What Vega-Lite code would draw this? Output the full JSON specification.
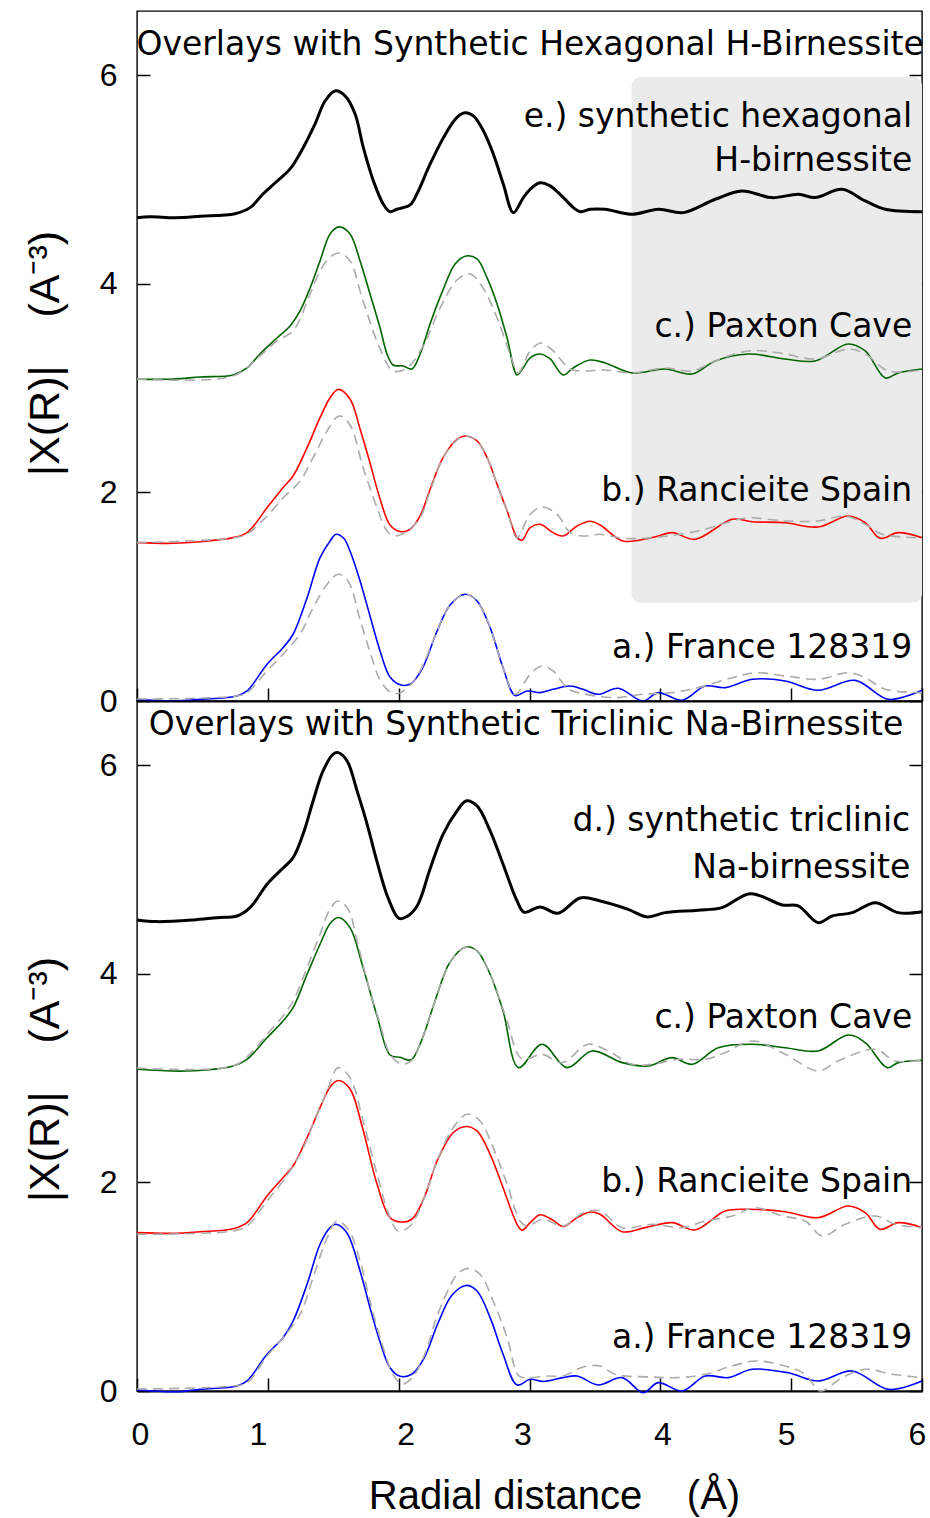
{
"$schema": "https://vega.github.io/schema/vega-lite/v6.json",
"background": "white",
"padding": {"left": 23, "top": 10, "right": 4, "bottom": 2},
"bounds": "flush",
"spacing": 0,
"datasets": {
"box": [{"x": 3.78, "x2": 6, "y": 0.943, "y2": 5.983}],
"tBlack": [{"x":0,"y":4.634},{"x":0.099,"y":4.643},{"x":0.291,"y":4.634},{"x":0.482,"y":4.647},{"x":0.749,"y":4.672},{"x":0.864,"y":4.730},{"x":0.963,"y":4.861},{"x":1.055,"y":4.966},{"x":1.170,"y":5.101},{"x":1.269,"y":5.302},{"x":1.361,"y":5.532},{"x":1.437,"y":5.752},{"x":1.514,"y":5.849},{"x":1.590,"y":5.801},{"x":1.667,"y":5.628},{"x":1.730,"y":5.305},{"x":1.807,"y":4.986},{"x":1.883,"y":4.762},{"x":1.934,"y":4.691},{"x":1.985,"y":4.714},{"x":2.087,"y":4.756},{"x":2.138,"y":4.858},{"x":2.240,"y":5.146},{"x":2.342,"y":5.401},{"x":2.444,"y":5.593},{"x":2.508,"y":5.640},{"x":2.571,"y":5.609},{"x":2.648,"y":5.465},{"x":2.724,"y":5.242},{"x":2.800,"y":4.954},{"x":2.877,"y":4.682},{"x":2.953,"y":4.826},{"x":3.005,"y":4.906},{"x":3.081,"y":4.969},{"x":3.158,"y":4.938},{"x":3.259,"y":4.826},{"x":3.336,"y":4.730},{"x":3.387,"y":4.691},{"x":3.463,"y":4.714},{"x":3.578,"y":4.714},{"x":3.782,"y":4.666},{"x":3.985,"y":4.714},{"x":4.177,"y":4.682},{"x":4.419,"y":4.810},{"x":4.623,"y":4.890},{"x":4.852,"y":4.826},{"x":5.056,"y":4.858},{"x":5.183,"y":4.826},{"x":5.388,"y":4.906},{"x":5.566,"y":4.794},{"x":5.719,"y":4.714},{"x":6.0,"y":4.691}],
"tCol": [
{"s":"c","x":0,"y":3.084},{"s":"c","x":0.275,"y":3.087},{"s":"c","x":0.482,"y":3.106},{"s":"c","x":0.734,"y":3.126},{"s":"c","x":0.841,"y":3.193},{"s":"c","x":0.940,"y":3.327},{"s":"c","x":1.070,"y":3.480},{"s":"c","x":1.170,"y":3.595},{"s":"c","x":1.246,"y":3.739},{"s":"c","x":1.323,"y":3.960},{"s":"c","x":1.399,"y":4.219},{"s":"c","x":1.476,"y":4.478},{"s":"c","x":1.544,"y":4.545},{"s":"c","x":1.628,"y":4.478},{"s":"c","x":1.705,"y":4.219},{"s":"c","x":1.781,"y":3.902},{"s":"c","x":1.858,"y":3.576},{"s":"c","x":1.911,"y":3.327},{"s":"c","x":1.957,"y":3.221},{"s":"c","x":2.034,"y":3.212},{"s":"c","x":2.102,"y":3.183},{"s":"c","x":2.164,"y":3.327},{"s":"c","x":2.240,"y":3.615},{"s":"c","x":2.339,"y":3.941},{"s":"c","x":2.431,"y":4.190},{"s":"c","x":2.515,"y":4.267},{"s":"c","x":2.599,"y":4.238},{"s":"c","x":2.676,"y":4.056},{"s":"c","x":2.752,"y":3.806},{"s":"c","x":2.829,"y":3.480},{"s":"c","x":2.905,"y":3.126},{"s":"c","x":2.951,"y":3.193},{"s":"c","x":3.005,"y":3.289},{"s":"c","x":3.081,"y":3.327},{"s":"c","x":3.158,"y":3.279},{"s":"c","x":3.257,"y":3.126},{"s":"c","x":3.333,"y":3.193},{"s":"c","x":3.463,"y":3.269},{"s":"c","x":3.578,"y":3.241},{"s":"c","x":3.784,"y":3.145},{"s":"c","x":4.037,"y":3.183},{"s":"c","x":4.243,"y":3.135},{"s":"c","x":4.419,"y":3.260},{"s":"c","x":4.671,"y":3.327},{"s":"c","x":4.954,"y":3.279},{"s":"c","x":5.183,"y":3.260},{"s":"c","x":5.436,"y":3.423},{"s":"c","x":5.566,"y":3.356},{"s":"c","x":5.719,"y":3.097},{"s":"c","x":5.818,"y":3.145},{"s":"c","x":6.0,"y":3.183},
{"s":"b","x":0,"y":1.518},{"s":"b","x":0.275,"y":1.512},{"s":"b","x":0.482,"y":1.527},{"s":"b","x":0.734,"y":1.566},{"s":"b","x":0.841,"y":1.614},{"s":"b","x":0.994,"y":1.853},{"s":"b","x":1.116,"y":2.045},{"s":"b","x":1.193,"y":2.157},{"s":"b","x":1.300,"y":2.429},{"s":"b","x":1.399,"y":2.716},{"s":"b","x":1.476,"y":2.908},{"s":"b","x":1.537,"y":2.987},{"s":"b","x":1.628,"y":2.896},{"s":"b","x":1.705,"y":2.608},{"s":"b","x":1.781,"y":2.282},{"s":"b","x":1.858,"y":1.937},{"s":"b","x":1.934,"y":1.687},{"s":"b","x":2.011,"y":1.625},{"s":"b","x":2.087,"y":1.646},{"s":"b","x":2.164,"y":1.774},{"s":"b","x":2.240,"y":2.028},{"s":"b","x":2.339,"y":2.333},{"s":"b","x":2.446,"y":2.509},{"s":"b","x":2.508,"y":2.541},{"s":"b","x":2.599,"y":2.493},{"s":"b","x":2.676,"y":2.333},{"s":"b","x":2.752,"y":2.078},{"s":"b","x":2.829,"y":1.822},{"s":"b","x":2.905,"y":1.566},{"s":"b","x":2.943,"y":1.541},{"s":"b","x":3.005,"y":1.662},{"s":"b","x":3.081,"y":1.694},{"s":"b","x":3.180,"y":1.614},{"s":"b","x":3.257,"y":1.582},{"s":"b","x":3.364,"y":1.678},{"s":"b","x":3.463,"y":1.723},{"s":"b","x":3.540,"y":1.687},{"s":"b","x":3.716,"y":1.534},{"s":"b","x":3.937,"y":1.566},{"s":"b","x":4.090,"y":1.614},{"s":"b","x":4.266,"y":1.550},{"s":"b","x":4.549,"y":1.742},{"s":"b","x":4.702,"y":1.719},{"s":"b","x":4.954,"y":1.709},{"s":"b","x":5.206,"y":1.668},{"s":"b","x":5.436,"y":1.774},{"s":"b","x":5.566,"y":1.709},{"s":"b","x":5.680,"y":1.560},{"s":"b","x":5.818,"y":1.614},{"s":"b","x":6.0,"y":1.566},
{"s":"a","x":0,"y":0.016},{"s":"a","x":0.275,"y":0.0},{"s":"a","x":0.482,"y":0.016},{"s":"a","x":0.765,"y":0.048},{"s":"a","x":0.841,"y":0.096},{"s":"a","x":0.994,"y":0.352},{"s":"a","x":1.116,"y":0.511},{"s":"a","x":1.193,"y":0.640},{"s":"a","x":1.300,"y":0.990},{"s":"a","x":1.399,"y":1.374},{"s":"a","x":1.476,"y":1.534},{"s":"a","x":1.521,"y":1.598},{"s":"a","x":1.580,"y":1.560},{"s":"a","x":1.628,"y":1.438},{"s":"a","x":1.705,"y":1.151},{"s":"a","x":1.781,"y":0.815},{"s":"a","x":1.858,"y":0.479},{"s":"a","x":1.934,"y":0.230},{"s":"a","x":2.018,"y":0.153},{"s":"a","x":2.095,"y":0.168},{"s":"a","x":2.179,"y":0.307},{"s":"a","x":2.294,"y":0.671},{"s":"a","x":2.393,"y":0.920},{"s":"a","x":2.508,"y":1.023},{"s":"a","x":2.599,"y":0.959},{"s":"a","x":2.699,"y":0.703},{"s":"a","x":2.798,"y":0.319},{"s":"a","x":2.890,"y":0.053},{"s":"a","x":2.982,"y":0.096},{"s":"a","x":3.081,"y":0.080},{"s":"a","x":3.180,"y":0.112},{"s":"a","x":3.310,"y":0.144},{"s":"a","x":3.410,"y":0.112},{"s":"a","x":3.524,"y":0.064},{"s":"a","x":3.677,"y":0.122},{"s":"a","x":3.869,"y":0.0},{"s":"a","x":3.983,"y":0.080},{"s":"a","x":4.167,"y":0.007},{"s":"a","x":4.343,"y":0.144},{"s":"a","x":4.495,"y":0.128},{"s":"a","x":4.702,"y":0.208},{"s":"a","x":4.954,"y":0.192},{"s":"a","x":5.206,"y":0.103},{"s":"a","x":5.489,"y":0.198},{"s":"a","x":5.742,"y":0.016},{"s":"a","x":6.0,"y":0.103}],
"tFit": [
{"s":"c","x":0,"y":3.087},{"s":"c","x":0.734,"y":3.116},{"s":"c","x":0.940,"y":3.308},{"s":"c","x":1.070,"y":3.452},{"s":"c","x":1.193,"y":3.548},{"s":"c","x":1.323,"y":3.902},{"s":"c","x":1.399,"y":4.123},{"s":"c","x":1.476,"y":4.257},{"s":"c","x":1.552,"y":4.295},{"s":"c","x":1.628,"y":4.219},{"s":"c","x":1.728,"y":3.835},{"s":"c","x":1.858,"y":3.375},{"s":"c","x":1.957,"y":3.164},{"s":"c","x":2.064,"y":3.193},{"s":"c","x":2.187,"y":3.404},{"s":"c","x":2.317,"y":3.768},{"s":"c","x":2.446,"y":4.036},{"s":"c","x":2.546,"y":4.094},{"s":"c","x":2.645,"y":3.960},{"s":"c","x":2.752,"y":3.672},{"s":"c","x":2.852,"y":3.327},{"s":"c","x":2.913,"y":3.145},{"s":"c","x":3.005,"y":3.356},{"s":"c","x":3.089,"y":3.432},{"s":"c","x":3.180,"y":3.356},{"s":"c","x":3.310,"y":3.183},{"s":"c","x":3.410,"y":3.164},{"s":"c","x":3.578,"y":3.174},{"s":"c","x":3.784,"y":3.145},{"s":"c","x":4.037,"y":3.193},{"s":"c","x":4.243,"y":3.164},{"s":"c","x":4.419,"y":3.260},{"s":"c","x":4.671,"y":3.356},{"s":"c","x":4.916,"y":3.337},{"s":"c","x":5.183,"y":3.279},{"s":"c","x":5.436,"y":3.375},{"s":"c","x":5.566,"y":3.327},{"s":"c","x":5.742,"y":3.164},{"s":"c","x":6.0,"y":3.174},
{"s":"b","x":0,"y":1.518},{"s":"b","x":0.734,"y":1.563},{"s":"b","x":0.841,"y":1.601},{"s":"b","x":0.994,"y":1.774},{"s":"b","x":1.116,"y":1.946},{"s":"b","x":1.246,"y":2.109},{"s":"b","x":1.346,"y":2.333},{"s":"b","x":1.453,"y":2.589},{"s":"b","x":1.544,"y":2.733},{"s":"b","x":1.628,"y":2.646},{"s":"b","x":1.728,"y":2.237},{"s":"b","x":1.835,"y":1.853},{"s":"b","x":1.911,"y":1.630},{"s":"b","x":1.972,"y":1.582},{"s":"b","x":2.064,"y":1.630},{"s":"b","x":2.164,"y":1.757},{"s":"b","x":2.240,"y":2.013},{"s":"b","x":2.339,"y":2.330},{"s":"b","x":2.446,"y":2.502},{"s":"b","x":2.515,"y":2.541},{"s":"b","x":2.599,"y":2.493},{"s":"b","x":2.676,"y":2.330},{"s":"b","x":2.752,"y":2.081},{"s":"b","x":2.829,"y":1.822},{"s":"b","x":2.905,"y":1.566},{"s":"b","x":3.005,"y":1.790},{"s":"b","x":3.097,"y":1.860},{"s":"b","x":3.211,"y":1.790},{"s":"b","x":3.310,"y":1.614},{"s":"b","x":3.410,"y":1.582},{"s":"b","x":3.540,"y":1.598},{"s":"b","x":3.716,"y":1.560},{"s":"b","x":3.937,"y":1.566},{"s":"b","x":4.289,"y":1.630},{"s":"b","x":4.549,"y":1.726},{"s":"b","x":4.671,"y":1.757},{"s":"b","x":4.954,"y":1.726},{"s":"b","x":5.206,"y":1.726},{"s":"b","x":5.413,"y":1.774},{"s":"b","x":5.566,"y":1.694},{"s":"b","x":5.696,"y":1.598},{"s":"b","x":6.0,"y":1.566},
{"s":"a","x":0,"y":0.019},{"s":"a","x":0.765,"y":0.048},{"s":"a","x":0.841,"y":0.080},{"s":"a","x":0.994,"y":0.288},{"s":"a","x":1.116,"y":0.448},{"s":"a","x":1.246,"y":0.640},{"s":"a","x":1.346,"y":0.895},{"s":"a","x":1.453,"y":1.119},{"s":"a","x":1.537,"y":1.215},{"s":"a","x":1.613,"y":1.150},{"s":"a","x":1.705,"y":0.780},{"s":"a","x":1.781,"y":0.470},{"s":"a","x":1.858,"y":0.200},{"s":"a","x":1.934,"y":0.086},{"s":"a","x":1.995,"y":0.072},{"s":"a","x":2.072,"y":0.134},{"s":"a","x":2.164,"y":0.288},{"s":"a","x":2.294,"y":0.671},{"s":"a","x":2.393,"y":0.920},{"s":"a","x":2.508,"y":1.023},{"s":"a","x":2.599,"y":0.959},{"s":"a","x":2.699,"y":0.703},{"s":"a","x":2.798,"y":0.319},{"s":"a","x":2.890,"y":0.064},{"s":"a","x":3.005,"y":0.256},{"s":"a","x":3.096,"y":0.336},{"s":"a","x":3.180,"y":0.288},{"s":"a","x":3.295,"y":0.115},{"s":"a","x":3.410,"y":0.070},{"s":"a","x":3.654,"y":0.032},{"s":"a","x":3.861,"y":0.064},{"s":"a","x":4.090,"y":0.080},{"s":"a","x":4.289,"y":0.128},{"s":"a","x":4.549,"y":0.223},{"s":"a","x":4.725,"y":0.271},{"s":"a","x":4.954,"y":0.240},{"s":"a","x":5.206,"y":0.208},{"s":"a","x":5.436,"y":0.271},{"s":"a","x":5.566,"y":0.223},{"s":"a","x":5.719,"y":0.112},{"s":"a","x":6.0,"y":0.080}],
"tLab": [{"x":5.925,"y":5.60,"t":"e.) synthetic hexagonal"},{"x":5.925,"y":5.175,"t":"H-birnessite"},{"x":5.925,"y":3.586,"t":"c.) Paxton Cave"},{"x":5.925,"y":2.018,"t":"b.) Rancieite Spain"},{"x":5.925,"y":0.508,"t":"a.) France 128319"}],
"tTitle": [{"x":3.005,"y":6.285,"t":"Overlays with Synthetic Hexagonal H-Birnessite"}],
"bBlack": [{"x":0,"y":4.516},{"x":0.153,"y":4.500},{"x":0.428,"y":4.516},{"x":0.612,"y":4.538},{"x":0.765,"y":4.554},{"x":0.864,"y":4.634},{"x":0.994,"y":4.858},{"x":1.093,"y":4.986},{"x":1.193,"y":5.113},{"x":1.269,"y":5.337},{"x":1.346,"y":5.657},{"x":1.422,"y":5.944},{"x":1.498,"y":6.104},{"x":1.537,"y":6.120},{"x":1.606,"y":6.040},{"x":1.682,"y":5.753},{"x":1.759,"y":5.433},{"x":1.835,"y":5.072},{"x":1.919,"y":4.727},{"x":2.003,"y":4.530},{"x":2.064,"y":4.549},{"x":2.141,"y":4.650},{"x":2.240,"y":5.005},{"x":2.339,"y":5.337},{"x":2.446,"y":5.561},{"x":2.515,"y":5.657},{"x":2.599,"y":5.609},{"x":2.699,"y":5.369},{"x":2.798,"y":5.050},{"x":2.905,"y":4.698},{"x":2.959,"y":4.590},{"x":3.081,"y":4.640},{"x":3.219,"y":4.580},{"x":3.387,"y":4.727},{"x":3.540,"y":4.698},{"x":3.754,"y":4.618},{"x":3.899,"y":4.545},{"x":4.037,"y":4.586},{"x":4.289,"y":4.609},{"x":4.472,"y":4.634},{"x":4.687,"y":4.768},{"x":4.931,"y":4.660},{"x":5.054,"y":4.650},{"x":5.206,"y":4.490},{"x":5.314,"y":4.554},{"x":5.466,"y":4.586},{"x":5.642,"y":4.682},{"x":5.818,"y":4.586},{"x":6.0,"y":4.595}],
"bCol": [
{"s":"c","x":0,"y":3.084},{"s":"c","x":0.382,"y":3.068},{"s":"c","x":0.734,"y":3.116},{"s":"c","x":0.841,"y":3.180},{"s":"c","x":0.994,"y":3.387},{"s":"c","x":1.116,"y":3.547},{"s":"c","x":1.193,"y":3.675},{"s":"c","x":1.300,"y":3.995},{"s":"c","x":1.399,"y":4.283},{"s":"c","x":1.476,"y":4.482},{"s":"c","x":1.540,"y":4.540},{"s":"c","x":1.628,"y":4.442},{"s":"c","x":1.720,"y":4.094},{"s":"c","x":1.835,"y":3.595},{"s":"c","x":1.934,"y":3.221},{"s":"c","x":2.011,"y":3.199},{"s":"c","x":2.095,"y":3.175},{"s":"c","x":2.179,"y":3.375},{"s":"c","x":2.278,"y":3.739},{"s":"c","x":2.393,"y":4.113},{"s":"c","x":2.515,"y":4.257},{"s":"c","x":2.599,"y":4.219},{"s":"c","x":2.699,"y":3.995},{"s":"c","x":2.798,"y":3.643},{"s":"c","x":2.917,"y":3.100},{"s":"c","x":3.096,"y":3.324},{"s":"c","x":3.287,"y":3.100},{"s":"c","x":3.479,"y":3.260},{"s":"c","x":3.708,"y":3.148},{"s":"c","x":3.907,"y":3.116},{"s":"c","x":4.090,"y":3.196},{"s":"c","x":4.243,"y":3.132},{"s":"c","x":4.442,"y":3.291},{"s":"c","x":4.702,"y":3.324},{"s":"c","x":4.954,"y":3.291},{"s":"c","x":5.206,"y":3.260},{"s":"c","x":5.436,"y":3.413},{"s":"c","x":5.566,"y":3.339},{"s":"c","x":5.734,"y":3.100},{"s":"c","x":5.818,"y":3.148},{"s":"c","x":6.0,"y":3.171},
{"s":"b","x":0,"y":1.518},{"s":"b","x":0.275,"y":1.512},{"s":"b","x":0.482,"y":1.527},{"s":"b","x":0.734,"y":1.556},{"s":"b","x":0.841,"y":1.614},{"s":"b","x":0.994,"y":1.870},{"s":"b","x":1.116,"y":2.045},{"s":"b","x":1.193,"y":2.157},{"s":"b","x":1.300,"y":2.429},{"s":"b","x":1.399,"y":2.716},{"s":"b","x":1.476,"y":2.915},{"s":"b","x":1.537,"y":2.977},{"s":"b","x":1.628,"y":2.896},{"s":"b","x":1.720,"y":2.541},{"s":"b","x":1.835,"y":1.982},{"s":"b","x":1.934,"y":1.662},{"s":"b","x":2.018,"y":1.620},{"s":"b","x":2.102,"y":1.649},{"s":"b","x":2.194,"y":1.850},{"s":"b","x":2.294,"y":2.205},{"s":"b","x":2.416,"y":2.476},{"s":"b","x":2.515,"y":2.536},{"s":"b","x":2.599,"y":2.493},{"s":"b","x":2.699,"y":2.269},{"s":"b","x":2.798,"y":1.949},{"s":"b","x":2.905,"y":1.598},{"s":"b","x":2.943,"y":1.541},{"s":"b","x":3.005,"y":1.614},{"s":"b","x":3.081,"y":1.690},{"s":"b","x":3.180,"y":1.637},{"s":"b","x":3.257,"y":1.577},{"s":"b","x":3.364,"y":1.662},{"s":"b","x":3.463,"y":1.716},{"s":"b","x":3.540,"y":1.694},{"s":"b","x":3.708,"y":1.527},{"s":"b","x":3.884,"y":1.566},{"s":"b","x":4.090,"y":1.614},{"s":"b","x":4.266,"y":1.544},{"s":"b","x":4.495,"y":1.726},{"s":"b","x":4.671,"y":1.742},{"s":"b","x":4.954,"y":1.719},{"s":"b","x":5.206,"y":1.662},{"s":"b","x":5.436,"y":1.774},{"s":"b","x":5.566,"y":1.710},{"s":"b","x":5.680,"y":1.550},{"s":"b","x":5.818,"y":1.614},{"s":"b","x":6.0,"y":1.566},
{"s":"a","x":0,"y":0.010},{"s":"a","x":0.306,"y":-0.007},{"s":"a","x":0.482,"y":0.016},{"s":"a","x":0.765,"y":0.048},{"s":"a","x":0.841,"y":0.096},{"s":"a","x":0.994,"y":0.352},{"s":"a","x":1.116,"y":0.511},{"s":"a","x":1.193,"y":0.671},{"s":"a","x":1.300,"y":1.023},{"s":"a","x":1.399,"y":1.407},{"s":"a","x":1.476,"y":1.566},{"s":"a","x":1.521,"y":1.598},{"s":"a","x":1.605,"y":1.515},{"s":"a","x":1.705,"y":1.151},{"s":"a","x":1.781,"y":0.799},{"s":"a","x":1.858,"y":0.470},{"s":"a","x":1.934,"y":0.223},{"s":"a","x":2.011,"y":0.141},{"s":"a","x":2.102,"y":0.163},{"s":"a","x":2.194,"y":0.316},{"s":"a","x":2.301,"y":0.652},{"s":"a","x":2.408,"y":0.920},{"s":"a","x":2.515,"y":1.012},{"s":"a","x":2.599,"y":0.959},{"s":"a","x":2.699,"y":0.703},{"s":"a","x":2.798,"y":0.352},{"s":"a","x":2.905,"y":0.058},{"s":"a","x":3.005,"y":0.112},{"s":"a","x":3.104,"y":0.091},{"s":"a","x":3.257,"y":0.128},{"s":"a","x":3.364,"y":0.144},{"s":"a","x":3.524,"y":0.058},{"s":"a","x":3.708,"y":0.128},{"s":"a","x":3.869,"y":-0.016},{"s":"a","x":3.983,"y":0.080},{"s":"a","x":4.167,"y":0.0},{"s":"a","x":4.343,"y":0.144},{"s":"a","x":4.518,"y":0.128},{"s":"a","x":4.702,"y":0.208},{"s":"a","x":4.977,"y":0.175},{"s":"a","x":5.206,"y":0.096},{"s":"a","x":5.466,"y":0.192},{"s":"a","x":5.742,"y":0.016},{"s":"a","x":6.0,"y":0.096}],
"bFit": [
{"s":"c","x":0,"y":3.097},{"s":"c","x":0.734,"y":3.116},{"s":"c","x":0.887,"y":3.260},{"s":"c","x":0.994,"y":3.420},{"s":"c","x":1.116,"y":3.595},{"s":"c","x":1.193,"y":3.739},{"s":"c","x":1.300,"y":4.059},{"s":"c","x":1.399,"y":4.379},{"s":"c","x":1.476,"y":4.621},{"s":"c","x":1.537,"y":4.698},{"s":"c","x":1.613,"y":4.621},{"s":"c","x":1.682,"y":4.314},{"s":"c","x":1.759,"y":3.931},{"s":"c","x":1.858,"y":3.516},{"s":"c","x":1.934,"y":3.228},{"s":"c","x":2.018,"y":3.135},{"s":"c","x":2.095,"y":3.164},{"s":"c","x":2.179,"y":3.375},{"s":"c","x":2.278,"y":3.739},{"s":"c","x":2.393,"y":4.113},{"s":"c","x":2.515,"y":4.257},{"s":"c","x":2.607,"y":4.209},{"s":"c","x":2.714,"y":3.950},{"s":"c","x":2.821,"y":3.579},{"s":"c","x":2.943,"y":3.183},{"s":"c","x":3.096,"y":3.228},{"s":"c","x":3.249,"y":3.148},{"s":"c","x":3.448,"y":3.324},{"s":"c","x":3.601,"y":3.260},{"s":"c","x":3.784,"y":3.132},{"s":"c","x":3.937,"y":3.132},{"s":"c","x":4.136,"y":3.180},{"s":"c","x":4.343,"y":3.180},{"s":"c","x":4.495,"y":3.244},{"s":"c","x":4.702,"y":3.356},{"s":"c","x":4.954,"y":3.228},{"s":"c","x":5.206,"y":3.068},{"s":"c","x":5.359,"y":3.164},{"s":"c","x":5.642,"y":3.276},{"s":"c","x":5.795,"y":3.164},{"s":"c","x":6.0,"y":3.171},
{"s":"b","x":0,"y":1.502},{"s":"b","x":0.734,"y":1.534},{"s":"b","x":0.841,"y":1.582},{"s":"b","x":0.994,"y":1.822},{"s":"b","x":1.116,"y":2.013},{"s":"b","x":1.246,"y":2.269},{"s":"b","x":1.346,"y":2.557},{"s":"b","x":1.453,"y":2.876},{"s":"b","x":1.537,"y":3.100},{"s":"b","x":1.628,"y":3.004},{"s":"b","x":1.728,"y":2.589},{"s":"b","x":1.835,"y":2.078},{"s":"b","x":1.934,"y":1.662},{"s":"b","x":1.995,"y":1.534},{"s":"b","x":2.087,"y":1.582},{"s":"b","x":2.187,"y":1.822},{"s":"b","x":2.294,"y":2.205},{"s":"b","x":2.416,"y":2.524},{"s":"b","x":2.523,"y":2.653},{"s":"b","x":2.622,"y":2.589},{"s":"b","x":2.722,"y":2.333},{"s":"b","x":2.829,"y":1.982},{"s":"b","x":2.928,"y":1.630},{"s":"b","x":2.982,"y":1.582},{"s":"b","x":3.104,"y":1.646},{"s":"b","x":3.257,"y":1.582},{"s":"b","x":3.410,"y":1.709},{"s":"b","x":3.540,"y":1.726},{"s":"b","x":3.708,"y":1.566},{"s":"b","x":3.937,"y":1.598},{"s":"b","x":4.167,"y":1.566},{"s":"b","x":4.343,"y":1.630},{"s":"b","x":4.549,"y":1.678},{"s":"b","x":4.725,"y":1.757},{"s":"b","x":4.931,"y":1.678},{"s":"b","x":5.107,"y":1.630},{"s":"b","x":5.237,"y":1.486},{"s":"b","x":5.413,"y":1.598},{"s":"b","x":5.642,"y":1.678},{"s":"b","x":5.795,"y":1.598},{"s":"b","x":6.0,"y":1.566},
{"s":"a","x":0,"y":0.019},{"s":"a","x":0.734,"y":0.048},{"s":"a","x":0.841,"y":0.080},{"s":"a","x":0.994,"y":0.336},{"s":"a","x":1.116,"y":0.511},{"s":"a","x":1.246,"y":0.735},{"s":"a","x":1.346,"y":1.086},{"s":"a","x":1.453,"y":1.470},{"s":"a","x":1.529,"y":1.630},{"s":"a","x":1.613,"y":1.553},{"s":"a","x":1.705,"y":1.246},{"s":"a","x":1.781,"y":0.863},{"s":"a","x":1.873,"y":0.451},{"s":"a","x":1.957,"y":0.160},{"s":"a","x":2.026,"y":0.067},{"s":"a","x":2.102,"y":0.125},{"s":"a","x":2.194,"y":0.336},{"s":"a","x":2.294,"y":0.719},{"s":"a","x":2.393,"y":1.007},{"s":"a","x":2.446,"y":1.119},{"s":"a","x":2.531,"y":1.176},{"s":"a","x":2.622,"y":1.119},{"s":"a","x":2.722,"y":0.863},{"s":"a","x":2.829,"y":0.511},{"s":"a","x":2.920,"y":0.144},{"s":"a","x":3.005,"y":0.128},{"s":"a","x":3.135,"y":0.144},{"s":"a","x":3.257,"y":0.144},{"s":"a","x":3.410,"y":0.230},{"s":"a","x":3.540,"y":0.240},{"s":"a","x":3.654,"y":0.160},{"s":"a","x":3.937,"y":0.134},{"s":"a","x":4.136,"y":0.128},{"s":"a","x":4.343,"y":0.160},{"s":"a","x":4.549,"y":0.240},{"s":"a","x":4.725,"y":0.288},{"s":"a","x":4.954,"y":0.240},{"s":"a","x":5.107,"y":0.160},{"s":"a","x":5.222,"y":0.0},{"s":"a","x":5.390,"y":0.128},{"s":"a","x":5.566,"y":0.208},{"s":"a","x":5.772,"y":0.160},{"s":"a","x":6.0,"y":0.128}],
"bLab": [{"x":5.91,"y":5.465,"t":"d.) synthetic triclinic"},{"x":5.91,"y":5.014,"t":"Na-birnessite"},{"x":5.925,"y":3.576,"t":"c.) Paxton Cave"},{"x":5.925,"y":2.004,"t":"b.) Rancieite Spain"},{"x":5.925,"y":0.508,"t":"a.) France 128319"}],
"bTitle": [{"x":2.973,"y":6.388,"t":"Overlays with Synthetic Triclinic Na-Birnessite"}]
},
"vconcat": [
{
"width": 785, "height": 690,
"resolve": {"axis": {"x": "independent", "y": "independent"}},
"layer": [
{"data": {"name": "box"}, "mark": {"type": "rect", "color": "#ebebeb", "cornerRadius": 9},
 "encoding": {"x": {"field": "x", "type": "quantitative", "scale": {"domain": [0, 6], "nice": false, "zero": false}, "axis": null}, "x2": {"field": "x2"},
  "y": {"field": "y", "type": "quantitative", "scale": {"domain": [0, 6.615], "nice": false, "zero": false}, "axis": null}, "y2": {"field": "y2"}}},
{"data": {"name": "tBlack"}, "mark": {"type": "line", "color": "#000000", "strokeWidth": 3, "interpolate": "catmull-rom"},
 "encoding": {"x": {"field": "x", "type": "quantitative", "scale": {"domain": [0, 6], "nice": false, "zero": false},
   "axis": {"orient": "bottom", "values": [0,1,2,3,4,5,6], "labels": false, "title": null, "tickSize": -13, "domainWidth": 2}},
  "y": {"field": "y", "type": "quantitative", "scale": {"domain": [0, 6.615], "nice": false, "zero": false},
   "axis": {"orient": "left", "values": [0,2,4,6], "domain": false, "tickSize": -13, "labelPadding": 33,
    "title": "|X(R)|\u00a0\u00a0\u00a0\u00a0(A\u207b\u00b3)", "titleFontSize": 43, "titleX": -79, "titleY": 342, "titleAngle": 270, "titleBaseline": "alphabetic", "titleAlign": "center"}}}},
{"data": {"name": "tCol"}, "mark": {"type": "line", "strokeWidth": 1.6, "interpolate": "catmull-rom"},
 "encoding": {"x": {"field": "x", "type": "quantitative", "scale": {"domain": [0, 6], "nice": false, "zero": false}, "axis": null},
  "y": {"field": "y", "type": "quantitative", "scale": {"domain": [0, 6.615], "nice": false, "zero": false}, "axis": null},
  "color": {"field": "s", "type": "nominal", "scale": {"domain": ["c","b","a"], "range": ["#006400","#ff0000","#0000ff"]}, "legend": null}}},
{"data": {"name": "tFit"}, "mark": {"type": "line", "color": "#ababab", "strokeWidth": 1.6, "strokeDash": [10, 6], "interpolate": "catmull-rom"},
 "encoding": {"x": {"field": "x", "type": "quantitative", "scale": {"domain": [0, 6], "nice": false, "zero": false}, "axis": null},
  "y": {"field": "y", "type": "quantitative", "scale": {"domain": [0, 6.615], "nice": false, "zero": false},
   "axis": {"orient": "right", "values": [0,2,4,6], "labels": false, "domain": false, "title": null, "tickSize": -13}},
  "detail": {"field": "s", "type": "nominal"}}},
{"data": {"name": "tLab"}, "mark": {"type": "text", "align": "right", "baseline": "middle", "font": "DejaVu Sans", "fontSize": 33, "color": "#000000"},
 "encoding": {"x": {"field": "x", "type": "quantitative", "scale": {"domain": [0, 6], "nice": false, "zero": false}, "axis": null},
  "y": {"field": "y", "type": "quantitative", "scale": {"domain": [0, 6.615], "nice": false, "zero": false}, "axis": null}, "text": {"field": "t"}}},
{"data": {"name": "tTitle"}, "mark": {"type": "text", "align": "center", "baseline": "middle", "font": "DejaVu Sans", "fontSize": 33, "color": "#000000"},
 "encoding": {"x": {"field": "x", "type": "quantitative", "scale": {"domain": [0, 6], "nice": false, "zero": false}, "axis": null},
  "y": {"field": "y", "type": "quantitative", "scale": {"domain": [0, 6.615], "nice": false, "zero": false}, "axis": null}, "text": {"field": "t"}}}
]
},
{
"width": 785, "height": 690,
"resolve": {"axis": {"x": "independent", "y": "independent"}},
"layer": [
{"data": {"name": "bBlack"}, "mark": {"type": "line", "color": "#000000", "strokeWidth": 3, "interpolate": "catmull-rom"},
 "encoding": {"x": {"field": "x", "type": "quantitative", "scale": {"domain": [0, 6], "nice": false, "zero": false},
   "axis": {"orient": "bottom", "values": [0,1,2,3,4,5,6], "tickSize": -13, "domainWidth": 2, "labelPadding": 41, "labelFlush": false, "labelBaseline": "top",
    "labelOffset": {"condition": [{"test": "datum.value === 0", "value": 3}, {"test": "datum.value === 1", "value": -10}, {"test": "datum.value === 2", "value": 7}, {"test": "datum.value === 3", "value": -7}, {"test": "datum.value === 4", "value": 2}, {"test": "datum.value === 5", "value": -5}, {"test": "datum.value === 6", "value": -5}], "value": 0},
    "title": "Radial distance\u00a0\u00a0\u00a0\u00a0(\u00c5)", "titleFontSize": 40, "titleX": 417, "titleY": 85, "titleBaseline": "top", "titleAlign": "center"}},
  "y": {"field": "y", "type": "quantitative", "scale": {"domain": [0, 6.615], "nice": false, "zero": false},
   "axis": {"orient": "left", "values": [0,2,4,6], "domain": false, "tickSize": -13, "labelPadding": 33,
    "title": "|X(R)|\u00a0\u00a0\u00a0\u00a0(A\u207b\u00b3)", "titleFontSize": 43, "titleX": -79, "titleY": 378, "titleAngle": 270, "titleBaseline": "alphabetic", "titleAlign": "center"}}}},
{"data": {"name": "bCol"}, "mark": {"type": "line", "strokeWidth": 1.6, "interpolate": "catmull-rom"},
 "encoding": {"x": {"field": "x", "type": "quantitative", "scale": {"domain": [0, 6], "nice": false, "zero": false}, "axis": null},
  "y": {"field": "y", "type": "quantitative", "scale": {"domain": [0, 6.615], "nice": false, "zero": false}, "axis": null},
  "color": {"field": "s", "type": "nominal", "scale": {"domain": ["c","b","a"], "range": ["#006400","#ff0000","#0000ff"]}, "legend": null}}},
{"data": {"name": "bFit"}, "mark": {"type": "line", "color": "#ababab", "strokeWidth": 1.6, "strokeDash": [10, 6], "interpolate": "catmull-rom"},
 "encoding": {"x": {"field": "x", "type": "quantitative", "scale": {"domain": [0, 6], "nice": false, "zero": false}, "axis": null},
  "y": {"field": "y", "type": "quantitative", "scale": {"domain": [0, 6.615], "nice": false, "zero": false},
   "axis": {"orient": "right", "values": [0,2,4,6], "labels": false, "domain": false, "title": null, "tickSize": -13}},
  "detail": {"field": "s", "type": "nominal"}}},
{"data": {"name": "bLab"}, "mark": {"type": "text", "align": "right", "baseline": "middle", "font": "DejaVu Sans", "fontSize": 33, "color": "#000000"},
 "encoding": {"x": {"field": "x", "type": "quantitative", "scale": {"domain": [0, 6], "nice": false, "zero": false}, "axis": null},
  "y": {"field": "y", "type": "quantitative", "scale": {"domain": [0, 6.615], "nice": false, "zero": false}, "axis": null}, "text": {"field": "t"}}},
{"data": {"name": "bTitle"}, "mark": {"type": "text", "align": "center", "baseline": "middle", "font": "DejaVu Sans", "fontSize": 33, "color": "#000000"},
 "encoding": {"x": {"field": "x", "type": "quantitative", "scale": {"domain": [0, 6], "nice": false, "zero": false}, "axis": null},
  "y": {"field": "y", "type": "quantitative", "scale": {"domain": [0, 6.615], "nice": false, "zero": false}, "axis": null}, "text": {"field": "t"}}}
]
}
],
"config": {
 "view": {"stroke": "#000000", "strokeWidth": 1.4},
 "axis": {"grid": false, "tickColor": "#000000", "tickWidth": 1.5, "domainColor": "#000000", "labelFont": "Liberation Sans", "labelFontSize": 32, "labelColor": "#000000", "titleFont": "Liberation Sans", "titleColor": "#000000", "titleFontWeight": "normal"}
}
}
